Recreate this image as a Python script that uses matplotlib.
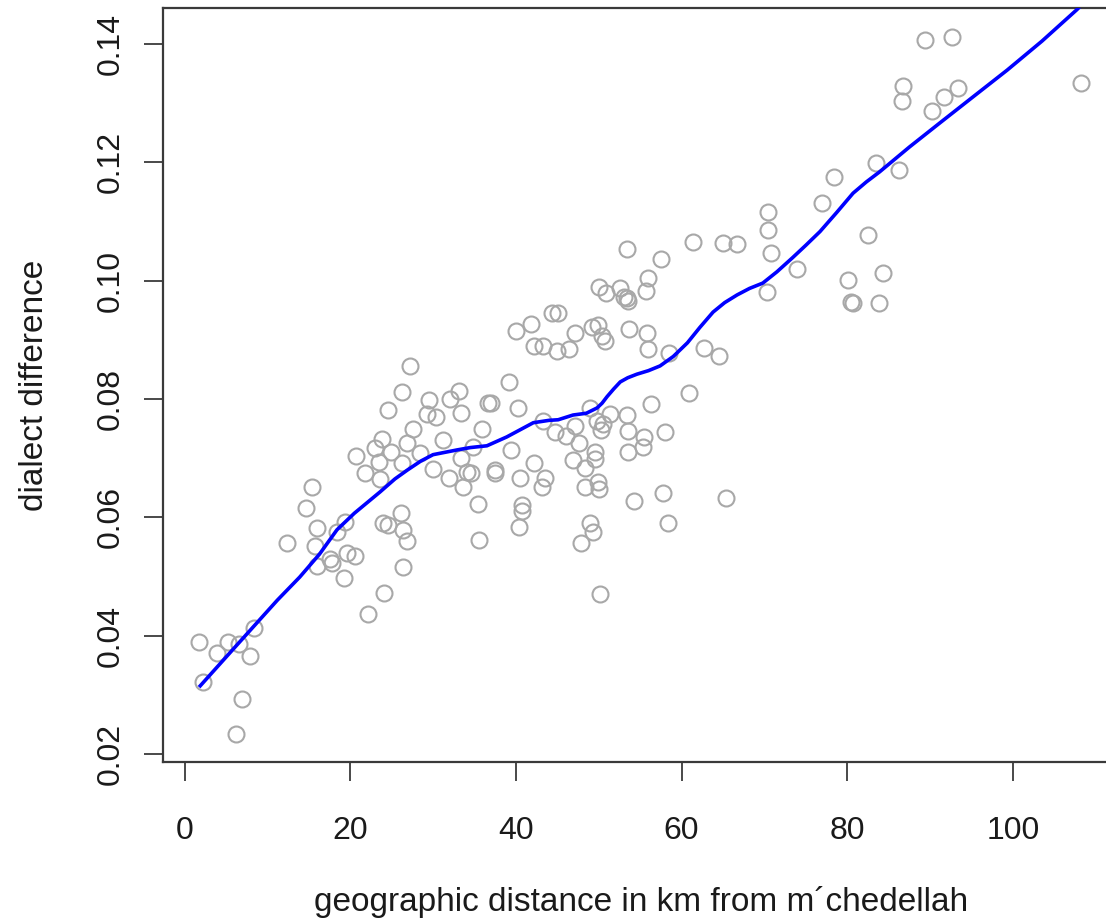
import matplotlib
matplotlib.use("Agg")
import matplotlib.pyplot as plt

# geographic distance (km) and dialect difference of each location
dist_km = [
    1.75, 2.2, 3.9, 5.25, 6.6, 7.9, 8.4, 6.9, 6.2,
    12.4, 14.7, 15.4, 16.0, 15.75, 16.0, 17.6, 17.8, 18.4, 19.4, 19.25, 19.6, 20.6,
    22.1, 24.1, 24.0, 24.6, 26.1, 26.4, 26.9, 26.4,
    27.2, 26.3, 24.6, 29.5, 32.1, 33.1, 29.3, 30.4, 33.4, 27.6, 23.8, 23.0, 26.9,
    31.2, 24.9, 28.4, 20.7, 23.5, 26.3, 33.4, 21.8, 23.6, 30.0, 31.9, 33.6, 34.1, 34.6,
    39.2, 40.3, 35.9, 36.6, 37.0, 34.8, 39.4, 37.5, 37.5, 40.5, 42.2, 35.4, 35.5,
    40.7, 40.7, 40.4, 43.2, 43.5, 44.7, 46.0, 47.1, 47.6, 46.9, 48.4, 48.3, 49.6,
    49.6, 49.9, 50.0, 48.9, 49.3, 47.9, 50.2, 43.3, 48.9, 49.8, 50.5, 51.4, 50.3,
    53.4, 53.5, 55.5, 55.3, 53.5, 56.3, 54.3, 57.7, 58.4, 65.4, 58.0, 60.9,
    40.0, 41.8, 44.4, 45.1, 42.2, 43.3, 45.0, 46.4, 47.1, 49.2, 49.9, 50.4, 50.8,
    53.7, 55.8, 55.9, 50.0, 50.9, 52.6, 53.1, 53.4, 53.5, 55.7, 55.9, 53.4, 57.5,
    61.4, 65.0, 66.7, 58.5, 62.7, 64.5,
    70.4, 70.4, 70.8, 70.3, 73.9, 76.9, 78.4, 82.5, 80.1, 80.5, 80.7, 84.3, 83.8,
    83.5, 86.2, 89.4, 92.6, 86.7, 86.6, 93.4, 91.7, 90.2, 108.2,
]
dialect_diff = [
    0.0389, 0.0322, 0.0371, 0.0389, 0.0386, 0.0366, 0.0413, 0.0293, 0.0234,
    0.0557, 0.0616, 0.0651, 0.0582, 0.0552, 0.0518, 0.0530, 0.0523, 0.0575, 0.0592, 0.0498, 0.0540, 0.0535,
    0.0437, 0.0472, 0.0591, 0.0587, 0.0607, 0.0579, 0.0560, 0.0516,
    0.0856, 0.0812, 0.0782, 0.0798, 0.0800, 0.0814, 0.0775, 0.0770, 0.0777, 0.0749, 0.0733, 0.0717, 0.0726,
    0.0731, 0.0711, 0.0709, 0.0704, 0.0694, 0.0692, 0.0700, 0.0675, 0.0665, 0.0682, 0.0667, 0.0651, 0.0677, 0.0675,
    0.0829, 0.0785, 0.0749, 0.0793, 0.0794, 0.0719, 0.0714, 0.0680, 0.0675, 0.0667, 0.0692, 0.0623, 0.0562,
    0.0621, 0.0611, 0.0584, 0.0651, 0.0667, 0.0744, 0.0738, 0.0755, 0.0726, 0.0697, 0.0683, 0.0651, 0.0711,
    0.0699, 0.0660, 0.0648, 0.0591, 0.0575, 0.0557, 0.0470, 0.0763, 0.0785, 0.0763, 0.0758, 0.0775, 0.0748,
    0.0773, 0.0746, 0.0736, 0.0719, 0.0711, 0.0792, 0.0628, 0.0641, 0.0591, 0.0633, 0.0744, 0.0810,
    0.0915, 0.0927, 0.0946, 0.0946, 0.0890, 0.0890, 0.0881, 0.0885, 0.0912, 0.0922, 0.0925, 0.0907, 0.0898,
    0.0919, 0.0912, 0.0885, 0.0990, 0.0979, 0.0988, 0.0973, 0.0971, 0.0966, 0.0983, 0.1005, 0.1054, 0.1037,
    0.1066, 0.1064, 0.1062, 0.0878, 0.0886, 0.0873,
    0.1116, 0.1086, 0.1047, 0.0981, 0.1020, 0.1132, 0.1175, 0.1077, 0.1001, 0.0964, 0.0962, 0.1013, 0.0962,
    0.1199, 0.1187, 0.1407, 0.1412, 0.1329, 0.1304, 0.1326, 0.1311, 0.1287, 0.1334,
]

# smoothed trend line
smooth_x = [1.75, 6.5, 11.2, 13.9, 16.3, 18.4, 20.5, 23.6, 25.4, 26.9, 28.5, 30.0,
            32.9, 34.5, 36.5, 38.9, 40.5, 42.1, 44.0, 45.1, 46.9, 48.5, 49.8, 50.4,
            51.0, 51.8, 52.6, 53.5, 54.6, 56.0, 57.4, 59.0, 60.7, 62.2, 63.8, 65.2,
            66.7, 68.2, 69.8, 71.5, 73.4, 75.0, 76.7, 78.7, 80.7, 82.3, 83.9, 87.5,
            91.2, 95.2, 99.3, 103.5, 107.7, 108.2]
smooth_y = [0.0313, 0.0387, 0.0460, 0.0499, 0.0538, 0.0579, 0.0607, 0.0643, 0.0665,
            0.0680, 0.0695, 0.0706, 0.0714, 0.0718, 0.0721, 0.0736, 0.0748, 0.0760,
            0.0764, 0.0765, 0.0773, 0.0776, 0.0785, 0.0793, 0.0804, 0.0817, 0.0829,
            0.0836, 0.0842, 0.0848, 0.0856, 0.0872, 0.0895, 0.0921, 0.0947, 0.0963,
            0.0976, 0.0987, 0.0996, 0.1015, 0.1039, 0.1060, 0.1083, 0.1115, 0.1148,
            0.1167, 0.1184, 0.1226, 0.1267, 0.1311, 0.1356, 0.1405, 0.1458, 0.1465]

x_ticks = [0, 20, 40, 60, 80, 100]
y_ticks = [0.02, 0.04, 0.06, 0.08, 0.10, 0.12, 0.14]
y_tick_labels = ["0.02", "0.04", "0.06", "0.08", "0.10", "0.12", "0.14"]

plt.rcParams['font.family'] = ['Liberation Sans', 'DejaVu Sans']

W, H = 1106, 923
fig = plt.figure(figsize=(W / 100, H / 100), dpi=100)
left_px, right_px, top_px, bottom_px = 163, 1119, 8, 762
ax = fig.add_axes([left_px / W, (H - bottom_px) / H,
                   (right_px - left_px) / W, (bottom_px - top_px) / H])

ax.plot(dist_km, dialect_diff, linestyle='none', marker='o', markersize=11.5,
        markerfacecolor='none', markeredgecolor='#a8a8a8', markeredgewidth=1.5,
        zorder=2)
ax.plot(smooth_x, smooth_y, color='#0000ff', linewidth=2.6, zorder=3,
        solid_capstyle='butt', solid_joinstyle='round')

ax.set_xlim(-2.6, 112.8)
ax.set_ylim(0.01865, 0.1461)
ax.set_xticks(x_ticks)
ax.set_xticklabels([str(t) for t in x_ticks])
ax.set_yticks(y_ticks)
ax.set_yticklabels(y_tick_labels, rotation=90, va='center')

for s in ax.spines.values():
    s.set_color('#3a3a3a')
    s.set_linewidth(1.6)

ax.tick_params(axis='both', direction='out', length=14, width=1.3,
               color='#3a3a3a', labelsize=23, labelcolor='#1a1a1a')
ax.tick_params(axis='x', pad=25)
ax.tick_params(axis='y', pad=13)

ax.set_xlabel("geographic distance in km from m\u00b4chedellah", fontsize=24,
              color='#1a1a1a', labelpad=29)
ax.set_ylabel("dialect difference", fontsize=24, color='#1a1a1a', labelpad=33)

fig.savefig("out.png", dpi=100)
